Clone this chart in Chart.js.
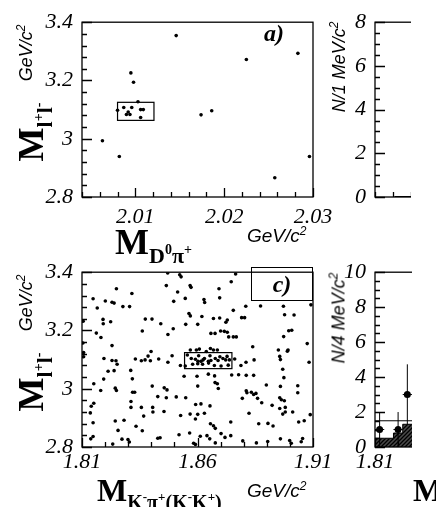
<!DOCTYPE html>
<html>
<head>
<meta charset="utf-8">
<script src="https://cdn.jsdelivr.net/npm/chart.js@4.4.1/dist/chart.umd.min.js"></script>
<style>
body { margin: 0; width: 436px; height: 507px; overflow: hidden; background: #fff; position: relative; }
.pane { position: absolute; overflow: hidden; }
.t { position: absolute; white-space: nowrap; color: #000; line-height: 1; }
.rot { transform: translate(-50%, -50%) rotate(-90deg); }
.unit { font: italic 18px "Liberation Sans", sans-serif; }
.unit sup { font-size: 12px; }
.mt { font: bold 36px/1 "Liberation Serif", serif; }
.mt .s { position: relative; top: 9px; font-size: 22px; }
.mt .p { position: relative; top: -9px; font-size: 14px; }
.mc { font-size: 32px; }
.mc .s { top: 8px; font-size: 20px; }
.mc .p { top: -8px; font-size: 13px; }
.lab { font: italic bold 24px/1 "Liberation Serif", serif; }
</style>
</head>
<body>
<div class="pane" style="left:0;top:0;width:340px;height:250px"><canvas id="ca" width="340" height="250"></canvas></div>
<div class="pane" style="left:0;top:250px;width:340px;height:257px"><canvas id="cc" width="340" height="257"></canvas></div>
<div class="pane" style="left:290px;top:0;width:121px;height:250px"><canvas id="cb" width="343" height="250"></canvas></div>
<div class="pane" style="left:290px;top:250px;width:122px;height:257px"><canvas id="cd" width="343" height="257"></canvas></div>

<div class="t rot mt" style="left:31px;top:132px">M<span class="s">l<span class="p">+</span>l<span class="p">-</span></span></div>
<div class="t rot unit" style="left:25px;top:53px">GeV/c<sup>2</sup></div>
<div class="t mt" style="left:115px;top:224px">M<span class="s">D<span class="p">0</span>π<span class="p">+</span></span></div>
<div class="t unit" style="left:247px;top:224px;font-size:19px">GeV/c<sup>2</sup></div>
<div class="t lab" style="left:264px;top:21px">a)</div>

<div class="t rot mt" style="left:31px;top:382px">M<span class="s">l<span class="p">+</span>l<span class="p">-</span></span></div>
<div class="t rot unit" style="left:25px;top:303px">GeV/c<sup>2</sup></div>
<div class="t mt mc" style="left:97px;top:474px">M<span class="s">K<span class="p">-</span>π<span class="p">+</span>(K<span class="p">-</span>K<span class="p">+</span>)</span></div>
<div class="t unit" style="left:247px;top:479px;font-size:19px">GeV/c<sup>2</sup></div>
<div class="t lab" style="left:251px;top:267px;width:60px;height:28px;border:1.3px solid #000;text-align:center;padding-top:4px">c)</div>

<div class="t rot unit" style="left:338px;top:67px">N/1 MeV/c<sup>2</sup></div>
<div class="t rot unit" style="left:338px;top:318px">N/4 MeV/c<sup>2</sup></div>
<div class="t mt mc" style="left:413px;top:474px">M</div>

<script>
// panel a) M(l+l-) vs M(D0 pi+), GeV
const aX = [2.0146, 2.0095, 2.0098, 2.0103, 2.0080, 2.0087, 2.0092, 2.0090, 2.0094, 2.0096, 2.0106,
            2.0109, 2.0106, 2.0174, 2.0186, 2.0063, 2.0082, 2.0225, 2.0283, 2.0296, 2.0257];
const aY = [3.354, 3.226, 3.194, 3.127, 3.098, 3.107, 3.092, 3.083, 3.083, 3.107, 3.100,
            3.100, 3.073, 3.082, 3.096, 2.993, 2.939, 3.272, 3.293, 2.939, 2.866];
const aWindow = [2.0080, 2.0121, 3.063, 3.125];
const aXTicks = [2.01, 2.02, 2.03];
const mllTicks = [2.8, 3.0, 3.2, 3.4];

// panel b) projection, N / 1 MeV
const bEdges = [2.006, 2.007, 2.008, 2.009];
const bCounts = [0, 0, 3];
const bYTicks = [0, 2, 4, 6, 8];

// panel c) M(l+l-) vs M(K-pi+ / K-K+), GeV
const cEvents = [
  [1.8471,3.397],[1.8523,3.391],[1.8529,3.384],[1.8765,3.394],[1.8746,3.367],[1.8465,3.354],
  [1.8568,3.354],[1.8572,3.348],[1.8693,3.343],[1.8249,3.343],[1.8514,3.332],[1.8316,3.327],
  [1.8148,3.309],[1.8201,3.301],[1.8230,3.297],[1.8239,3.294],[1.8277,3.282],[1.8306,3.282],
  [1.8166,3.277],[1.8497,3.300],[1.8547,3.310],[1.8628,3.306],[1.8631,3.296],[1.8696,3.312],
  [1.8755,3.269],[1.8809,3.283],[1.8873,3.284],[1.8972,3.283],[1.8191,3.238],[1.8192,3.223],
  [1.8224,3.230],[1.8374,3.239],[1.8403,3.239],[1.8441,3.223],[1.8549,3.221],[1.8563,3.258],
  [1.8569,3.250],[1.8601,3.221],[1.8619,3.248],[1.8669,3.241],[1.8696,3.243],[1.8723,3.228],
  [1.8729,3.236],[1.8791,3.244],[1.8804,3.244],[1.8977,3.254],[1.9018,3.253],[1.8162,3.191],
  [1.8182,3.176],[1.8361,3.198],[1.8472,3.186],[1.8495,3.206],[1.8658,3.190],[1.8676,3.190],
  [1.8700,3.198],[1.8716,3.197],[1.8729,3.194],[1.8735,3.178],[1.8755,3.178],[1.8768,3.178],
  [1.8995,3.199],[1.9008,3.201],[1.8973,3.179],[1.8230,3.148],[1.8839,3.144],[1.8950,3.133],
  [1.8992,3.133],[1.8399,3.128],[1.8569,3.133],[1.8595,3.133],[1.8608,3.136],[1.8638,3.128],
  [1.8656,3.138],[1.8669,3.133],[1.8686,3.133],[1.8556,3.116],[1.8573,3.104],[1.8591,3.101],
  [1.8602,3.094],[1.8615,3.094],[1.8624,3.099],[1.8630,3.104],[1.8647,3.094],[1.8658,3.097],
  [1.8677,3.104],[1.8689,3.097],[1.8697,3.110],[1.8710,3.104],[1.8722,3.099],[1.8728,3.111],
  [1.8738,3.099],[1.8605,3.113],[1.8654,3.113],[1.8526,3.080],[1.8547,3.078],[1.8579,3.084],
  [1.8601,3.086],[1.8622,3.084],[1.8648,3.088],[1.8673,3.080],[1.8702,3.078],[1.8733,3.081],
  [1.8195,3.104],[1.8230,3.097],[1.8247,3.096],[1.8252,3.084],[1.8331,3.102],[1.8357,3.096],
  [1.8373,3.099],[1.8386,3.112],[1.8396,3.096],[1.8432,3.102],[1.8472,3.091],[1.8490,3.113],
  [1.8761,3.102],[1.8788,3.080],[1.8810,3.091],[1.8845,3.099],[1.8956,3.111],[1.8959,3.100],
  [1.8989,3.129],[1.9083,3.091],[1.8107,3.110],[1.8107,3.124],[1.8213,3.060],[1.8239,3.062],
  [1.8311,3.063],[1.8318,3.034],[1.8194,3.033],[1.8244,3.002],[1.8249,2.994],[1.8542,3.043],
  [1.8598,3.043],[1.8647,3.050],[1.8674,3.044],[1.8748,3.047],[1.8778,3.048],[1.8811,3.046],
  [1.8843,3.046],[1.8969,3.067],[1.8974,3.038],[1.8151,3.017],[1.8181,2.994],[1.8404,3.009],
  [1.8456,3.003],[1.8468,2.996],[1.8601,3.009],[1.8676,3.021],[1.8686,3.017],[1.8690,3.001],
  [1.8811,2.993],[1.8814,2.986],[1.8898,3.013],[1.8959,3.008],[1.9034,3.010],[1.8319,2.988],
  [1.8328,2.988],[1.8428,2.973],[1.8465,2.969],[1.8508,2.972],[1.8549,2.969],[1.8140,2.940],
  [1.8151,2.950],[1.8312,2.956],[1.8312,2.936],[1.8357,2.936],[1.8406,2.936],[1.8455,2.922],
  [1.8592,2.946],[1.8615,2.948],[1.8654,2.941],[1.8794,2.967],[1.8833,2.988],[1.8843,2.980],
  [1.8853,2.984],[1.8860,2.967],[1.8878,2.952],[1.8923,2.943],[1.8956,2.969],[1.8963,2.962],
  [1.8976,2.959],[1.8980,2.936],[1.8956,2.932],[1.9034,2.986],[1.8136,2.917],[1.8367,2.906],
  [1.8407,2.920],[1.8527,2.908],[1.8568,2.913],[1.8601,2.912],[1.8630,2.916],[1.8591,2.896],
  [1.8656,2.880],[1.8669,2.873],[1.8677,2.864],[1.8744,2.886],[1.8823,2.916],[1.8865,2.880],
  [1.8905,2.881],[1.8927,2.872],[1.8969,2.913],[1.8980,2.920],[1.9012,2.920],[1.9038,2.886],
  [1.9062,2.890],[1.8148,2.883],[1.8244,2.889],[1.8282,2.892],[1.8334,2.871],[1.8256,2.857],
  [1.8361,2.856],[1.8148,2.836],[1.8138,2.828],[1.8273,2.827],[1.8299,2.826],[1.8428,2.830],
  [1.8438,2.832],[1.8520,2.842],[1.8566,2.848],[1.8612,2.837],[1.8641,2.839],[1.8653,2.828],
  [1.8677,2.814],[1.8702,2.846],[1.8719,2.833],[1.8744,2.839],[1.8796,2.821],[1.8855,2.814],
  [1.8904,2.819],[1.8959,2.828],[1.8999,2.822],[1.9006,2.813],[1.9049,2.818],[1.9055,2.829],
  [1.8583,2.813],[1.8591,2.809],[1.8305,2.817],[1.8233,2.810],[1.9088,2.911],[1.9075,3.155],
  [1.9091,3.288],[1.8105,3.232],[1.8104,3.157]
];
const cWindow = [1.8544, 1.8749, 3.069, 3.124];
const cXTicks = [1.81, 1.86, 1.91];

// panel d) projection, N / 4 MeV
const dEdges = [1.810, 1.814, 1.818, 1.822, 1.826, 1.830];
const dBackground = [0.5, 0.5, 0.8, 1.3, 1.3];
const dCenters = [1.812, 1.820, 1.824];
const dCounts = [1, 1, 3];
const dErrors = [1, 1, 1.73];
const dFitLevel = 1.5;
const dYTicks = [0, 2, 4, 6, 8, 10];

Chart.defaults.animation = false;
Chart.defaults.color = '#000';
Chart.defaults.font.family = '"Liberation Serif", serif';

const fmt = v => String(+(+v).toFixed(3));

// frame with ROOT style inward ticks
const frame = {
  id: 'frame',
  afterDraw(chart, args, o) {
    const {ctx, chartArea: a} = chart;
    const x = chart.scales.x, y = chart.scales.y;
    ctx.save();
    ctx.strokeStyle = '#000';
    ctx.lineWidth = 1.3;
    ctx.strokeRect(a.left, a.top, a.width, a.height);
    ctx.beginPath();
    const nx = Math.round((x.max - x.min) / o.xMinor);
    for (let i = 0; i <= nx; i++) {
      const v = x.min + i * o.xMinor;
      const big = o.xMajor.some(m => Math.abs(m - v) < o.xMinor / 10);
      const px = Math.round(x.getPixelForValue(v)) + 0.5;
      ctx.moveTo(px, a.bottom);
      ctx.lineTo(px, a.bottom - (big ? 9 : 5));
    }
    const ny = Math.round((y.max - y.min) / o.yMinor);
    for (let i = 0; i <= ny; i++) {
      const v = y.min + i * o.yMinor;
      const big = o.yMajor.some(m => Math.abs(m - v) < o.yMinor / 10);
      const py = Math.round(y.getPixelForValue(v)) + 0.5;
      ctx.moveTo(a.left, py);
      ctx.lineTo(a.left + (big ? 10 : 5), py);
    }
    ctx.stroke();
    ctx.restore();
  }
};

// signal window box
const windowBox = {
  id: 'windowBox',
  afterDatasetsDraw(chart, args, o) {
    if (!o.box) return;
    const {ctx} = chart;
    const x = chart.scales.x, y = chart.scales.y;
    const x1 = x.getPixelForValue(o.box[0]), x2 = x.getPixelForValue(o.box[1]);
    const y1 = y.getPixelForValue(o.box[3]), y2 = y.getPixelForValue(o.box[2]);
    ctx.save();
    ctx.strokeStyle = '#000';
    ctx.lineWidth = 1.2;
    ctx.strokeRect(x1, y1, x2 - x1, y2 - y1);
    ctx.restore();
  }
};

// vertical and bin-width error bars for the data points
const errorBars = {
  id: 'errorBars',
  afterDatasetsDraw(chart, args, o) {
    if (!o.errors) return;
    const {ctx} = chart;
    const x = chart.scales.x, y = chart.scales.y;
    ctx.save();
    ctx.strokeStyle = '#000';
    ctx.lineWidth = 1;
    ctx.beginPath();
    o.centers.forEach((c, i) => {
      const px = x.getPixelForValue(c);
      ctx.moveTo(px, y.getPixelForValue(o.values[i] - o.errors[i]));
      ctx.lineTo(px, y.getPixelForValue(o.values[i] + o.errors[i]));
      const py = y.getPixelForValue(o.values[i]);
      ctx.moveTo(x.getPixelForValue(c - o.halfWidth), py);
      ctx.lineTo(x.getPixelForValue(c + o.halfWidth), py);
    });
    ctx.stroke();
    ctx.restore();
  }
};

function scales(xMin, xMax, xTicks, yMin, yMax, yTicks, xPad, showX, yWidth) {
  return {
    x: {
      type: 'linear', min: xMin, max: xMax,
      afterBuildTicks: s => { s.ticks = xTicks.map(v => ({value: v})); },
      afterFit: s => { s.height = 32; },
      grid: {display: false, drawTicks: false},
      border: {display: false},
      ticks: {display: showX, maxRotation: 0, autoSkip: false, padding: xPad,
              font: {size: 22, style: 'italic'}, callback: v => fmt(v)}
    },
    y: {
      type: 'linear', min: yMin, max: yMax,
      afterBuildTicks: s => { s.ticks = yTicks.map(v => ({value: v})); },
      afterFit: s => { s.width = yWidth; },
      grid: {display: false, drawTicks: false},
      border: {display: false},
      ticks: {padding: 9, autoSkip: false, font: {size: 22, style: 'italic'}, callback: v => fmt(v)}
    }
  };
}

function baseOptions(pad, sc, extra) {
  return {
    responsive: false,
    layout: {padding: pad},
    scales: sc,
    plugins: Object.assign({legend: {display: false}, tooltip: {enabled: false}}, extra)
  };
}

// a)
new Chart(document.getElementById('ca'), {
  type: 'scatter',
  data: {datasets: [{
    data: aX.map((v, i) => ({x: v, y: aY[i]})),
    pointRadius: 1.8, pointBackgroundColor: '#000', pointBorderWidth: 0
  }]},
  options: baseOptions({top: 18, left: 0, right: 27, bottom: 21},
    scales(2.004, 2.03, aXTicks, 2.8, 3.4, mllTicks, 7, true, 82),
    {frame: {xMinor: 0.002, xMajor: aXTicks, yMinor: 0.04, yMajor: mllTicks},
     windowBox: {box: aWindow}}),
  plugins: [frame, windowBox]
});

// c)
new Chart(document.getElementById('cc'), {
  type: 'scatter',
  data: {datasets: [{
    data: cEvents.map(p => ({x: p[0], y: p[1]})),
    pointRadius: 1.8, pointBackgroundColor: '#000', pointBorderWidth: 0
  }]},
  options: baseOptions({top: 17, left: 0, right: 27, bottom: 28},
    scales(1.81, 1.91, cXTicks, 2.8, 3.4, mllTicks, 2, true, 82),
    {frame: {xMinor: 0.01, xMajor: cXTicks, yMinor: 0.04, yMajor: mllTicks},
     windowBox: {box: cWindow}}),
  plugins: [frame, windowBox]
});

// b)
const bSteps = bCounts.map((v, i) => ({x: bEdges[i], y: v}))
  .concat([{x: bEdges[bEdges.length - 1], y: bCounts[bCounts.length - 1]}]);
new Chart(document.getElementById('cb'), {
  type: 'line',
  data: {datasets: [{
    data: bSteps, stepped: 'before', borderColor: '#000', borderWidth: 2, pointRadius: 0, fill: false
  }]},
  options: baseOptions({top: 18, left: 0, right: 27, bottom: 21},
    scales(2.0038, 2.0298, aXTicks, 0, 8, bYTicks, 7, false, 85),
    {frame: {xMinor: 0.002, xMajor: aXTicks, yMinor: 0.5, yMajor: bYTicks}}),
  plugins: [frame]
});

// d)
function hatch() {
  const p = document.createElement('canvas');
  p.width = 4; p.height = 4;
  const g = p.getContext('2d');
  g.fillStyle = '#4a4a4a';
  g.fillRect(0, 0, 4, 4);
  g.strokeStyle = '#000';
  g.lineWidth = 1.3;
  g.beginPath();
  g.moveTo(0, 4); g.lineTo(4, 0);
  g.moveTo(-1, 1); g.lineTo(1, -1);
  g.moveTo(3, 5); g.lineTo(5, 3);
  g.stroke();
  return g.createPattern(p, 'repeat');
}
const dSteps = dBackground.map((v, i) => ({x: dEdges[i], y: v}))
  .concat([{x: dEdges[dEdges.length - 1], y: dBackground[dBackground.length - 1]}]);
new Chart(document.getElementById('cd'), {
  type: 'line',
  data: {datasets: [
    {data: dSteps, stepped: 'before', borderColor: '#000', borderWidth: 1, pointRadius: 0,
     fill: 'origin', backgroundColor: hatch(), order: 3},
    {data: [{x: 1.81, y: dFitLevel}, {x: 1.91, y: dFitLevel}], borderColor: '#000', borderWidth: 1,
     pointRadius: 0, fill: false, order: 2},
    {type: 'scatter', data: dCenters.map((c, i) => ({x: c, y: dCounts[i]})),
     pointRadius: 3.5, pointBackgroundColor: '#000', pointBorderWidth: 0, order: 1}
  ]},
  options: baseOptions({top: 17, left: 0, right: 27, bottom: 28},
    scales(1.81, 1.91, cXTicks, 0, 10, dYTicks, 2, true, 85),
    {frame: {xMinor: 0.01, xMajor: cXTicks, yMinor: 0.5, yMajor: dYTicks},
     errorBars: {centers: dCenters, values: dCounts, errors: dErrors, halfWidth: 0.002}}),
  plugins: [frame, errorBars]
});
</script>
</body>
</html>
